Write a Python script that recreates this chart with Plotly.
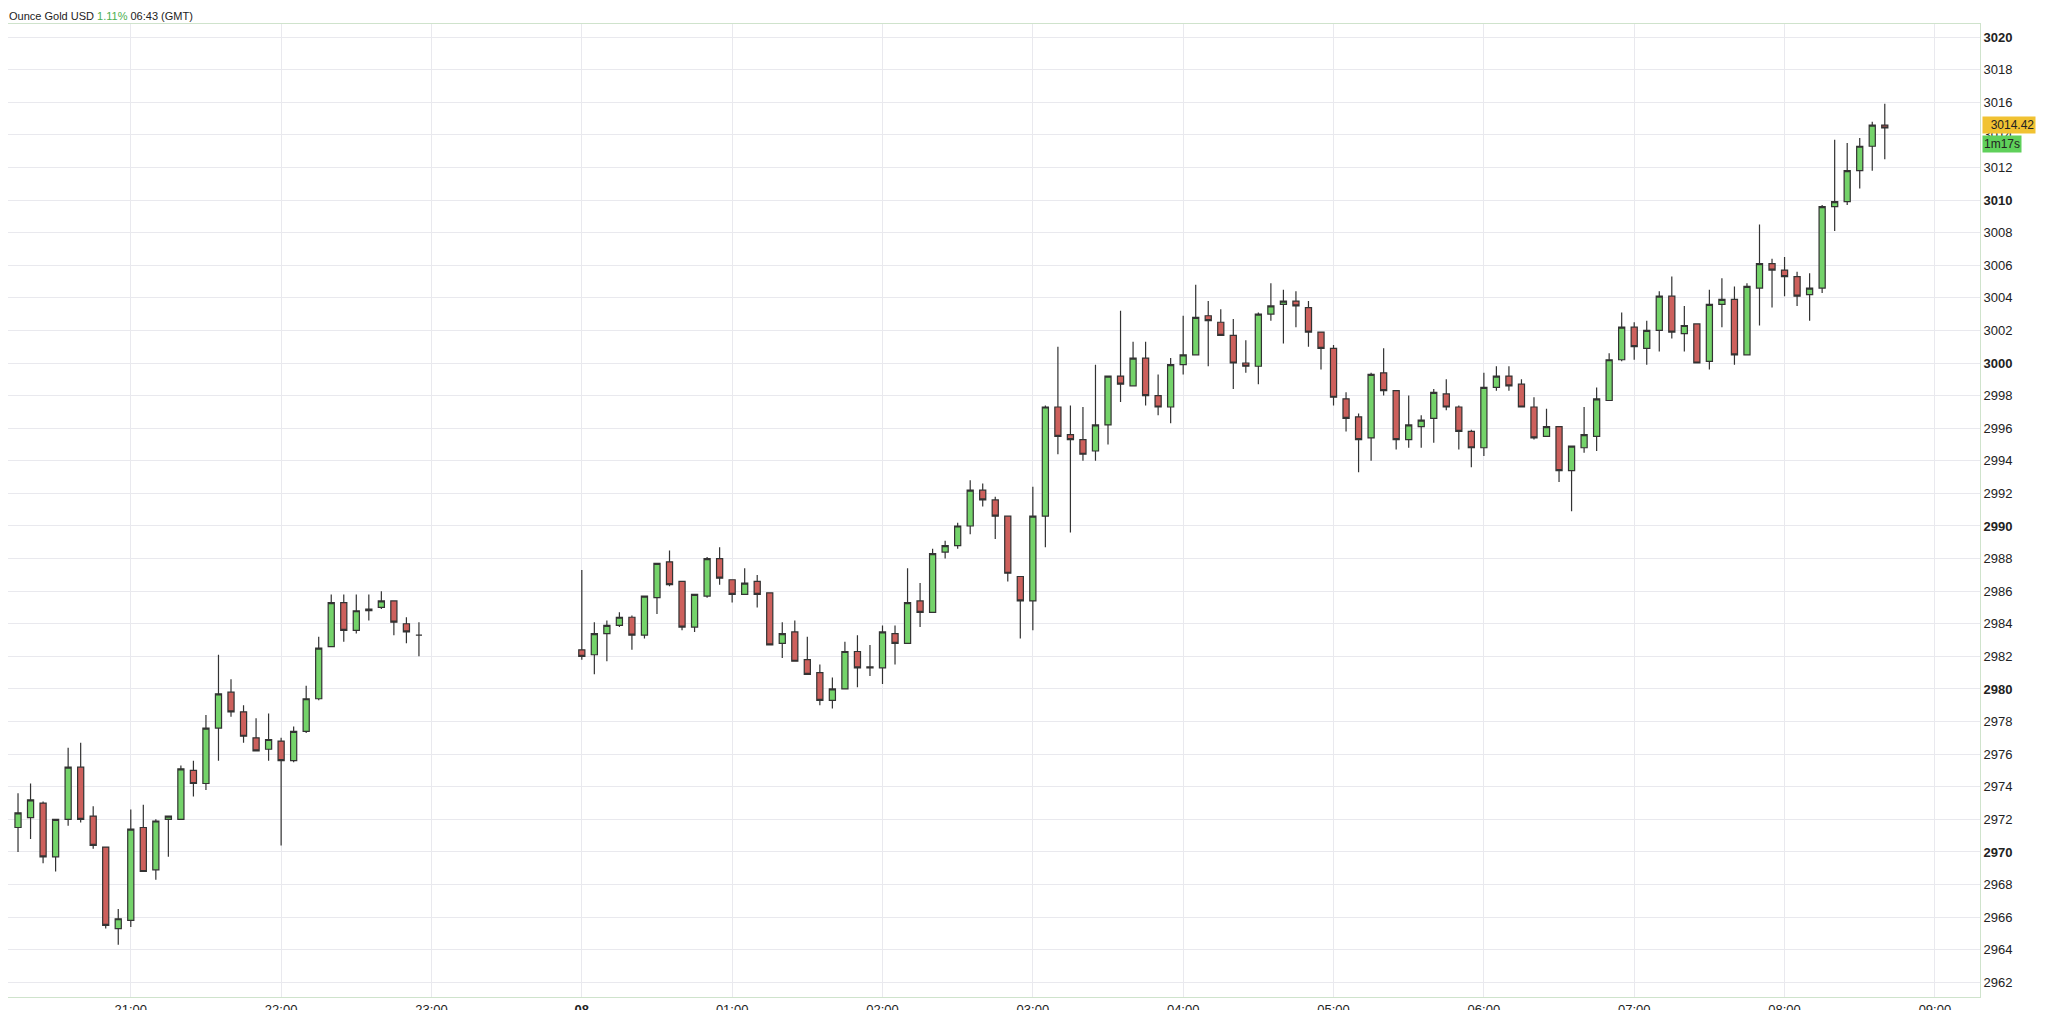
import plotly.graph_objects as go
import pandas as pd

# Session 1: 20:15 -> 22:55 (5-minute candles), Session 2: 00:00 -> 08:40
s1_start = "2025-04-07 20:15"
s2_start = "2025-04-08 00:00"

o1 = [2971.5,2972.1,2973.0,2969.7,2972.0,2975.2,2972.2,2970.3,2965.3,2965.8,2971.5,2968.9,2972.0,2972.0,2975.0,2974.2,2977.6,2979.8,2978.6,2977.0,2976.3,2976.8,2975.6,2977.4,2979.4,2982.6,2985.3,2983.6,2984.9,2985.0,2985.4,2984.0,2983.3]
h1 = [2973.6,2974.2,2973.1,2972.0,2976.4,2976.7,2972.8,2970.3,2966.5,2972.6,2972.9,2972.0,2972.2,2975.3,2975.6,2978.4,2982.1,2980.6,2979.0,2978.2,2978.5,2977.0,2977.7,2980.2,2983.2,2985.8,2985.8,2985.8,2985.8,2986.0,2985.4,2984.4,2984.1]
l1 = [2970.0,2970.8,2969.3,2968.8,2971.6,2971.8,2970.2,2965.3,2964.3,2965.4,2968.8,2968.3,2969.7,2972.0,2973.4,2973.8,2975.6,2978.3,2976.7,2976.2,2975.6,2970.4,2975.5,2977.3,2979.3,2982.6,2982.9,2983.4,2984.2,2984.9,2983.3,2982.8,2982.0]
c1 = [2972.4,2973.2,2969.7,2972.0,2975.2,2972.0,2970.4,2965.5,2965.9,2971.4,2968.8,2971.9,2972.2,2975.1,2974.2,2977.6,2979.7,2978.6,2977.1,2976.2,2976.9,2975.6,2977.4,2979.4,2982.5,2985.3,2983.6,2984.8,2984.8,2985.4,2984.1,2983.5,2983.3]

o2 = [2982.4,2982.1,2983.4,2983.9,2984.4,2983.3,2985.6,2987.8,2986.6,2983.8,2985.7,2988.0,2986.7,2985.8,2986.6,2985.9,2982.8,2983.5,2981.8,2981.0,
      2979.3,2980.0,2982.3,2981.35,2981.3,2983.4,2982.8,2985.4,2984.7,2988.4,2988.8,2990.0,2992.2,2991.6,2990.6,2986.9,2985.4,2990.6,2997.3,2995.6,
      2995.3,2994.6,2996.2,2999.2,2998.6,3000.3,2998.0,2997.3,2999.9,3000.5,3002.9,3002.5,3001.7,3000.0,2999.8,3003.0,3003.6,3003.8,3003.4,3001.9,
      3000.9,2997.8,2996.7,2995.4,2999.4,2998.3,2995.3,2996.1,2996.6,2998.1,2997.3,2995.8,2994.8,2998.5,2999.2,2998.7,2997.3,2995.5,2996.1,2993.4,
      2994.8,2995.5,2997.7,3000.2,3002.2,3000.9,3002.0,3004.1,3001.8,3002.4,3000.1,3003.6,3003.9,3000.5,3004.6,3006.1,3005.7,3005.3,3004.2,3004.6,
      3009.6,3009.9,3011.8,3013.3,3014.6]
h2 = [2987.3,2984.1,2984.2,2984.7,2984.5,2985.7,2987.7,2988.5,2986.6,2985.8,2988.1,2988.7,2986.7,2987.4,2987.0,2985.9,2984.1,2984.2,2983.2,2981.5,
      2980.7,2982.9,2983.3,2982.7,2983.9,2983.9,2987.4,2986.5,2988.6,2989.1,2990.2,2992.8,2992.6,2991.8,2990.6,2986.9,2992.4,2997.4,3001.0,2997.4,
      2997.3,2999.9,2999.2,3003.2,3001.3,3001.3,2999.3,3000.3,3002.9,3004.8,3003.8,3003.3,3002.7,3001.4,3003.1,3004.9,3004.5,3004.4,3003.8,3001.9,
      3001.1,2998.2,2996.9,2999.4,3000.9,2998.3,2998.0,2996.8,2998.4,2999.0,2997.4,2995.9,2999.4,2999.8,2999.8,2999.0,2997.9,2997.2,2996.1,2994.9,
      2997.3,2998.5,3000.6,3003.1,3002.5,3002.6,3004.4,3005.3,3003.5,3002.4,3004.5,3005.2,3004.7,3004.9,3008.5,3006.4,3006.5,3005.6,3005.5,3009.7,
      3013.7,3013.5,3013.8,3014.8,3015.9]
l2 = [2981.8,2980.9,2981.7,2983.8,2982.4,2983.1,2984.6,2986.3,2983.6,2983.5,2985.6,2986.4,2985.3,2985.8,2985.0,2982.7,2981.9,2981.7,2980.9,2979.0,
      2978.8,2980.0,2980.1,2980.8,2980.3,2981.5,2982.8,2983.8,2984.7,2988.0,2988.6,2989.5,2991.2,2989.2,2986.6,2983.1,2983.6,2988.7,2994.4,2989.6,
      2994.0,2994.0,2995.0,2997.6,2998.6,2997.4,2996.8,2996.3,2999.3,3000.5,2999.8,3001.7,2998.4,2999.4,2998.7,3002.6,3001.2,3002.2,3001.0,2999.6,
      2997.4,2995.8,2993.3,2994.0,2998.0,2994.7,2994.8,2994.8,2995.1,2997.1,2994.7,2993.6,2994.3,2998.3,2998.3,2997.3,2995.3,2995.5,2992.7,2990.9,
      2994.5,2994.6,2997.7,3000.1,3000.2,2999.9,3000.7,3001.5,3000.7,3000.0,2999.6,3002.2,2999.9,3000.5,3002.3,3003.4,3004.1,3003.5,3002.6,3004.3,
      3008.1,3009.7,3010.7,3011.8,3012.5]
c2 = [2982.0,2983.4,2983.9,2984.4,2983.3,2985.7,2987.7,2986.4,2983.8,2985.8,2988.0,2986.8,2985.8,2986.5,2985.8,2982.7,2983.4,2981.7,2980.9,2979.3,
      2980.0,2982.3,2981.3,2981.3,2983.5,2982.8,2985.3,2984.7,2988.3,2988.8,2990.0,2992.2,2991.6,2990.6,2987.1,2985.4,2990.6,2997.3,2995.5,2995.3,
      2994.4,2996.2,2999.2,2998.7,3000.3,2998.0,2997.3,2999.9,3000.5,3002.8,3002.6,3001.7,3000.0,2999.8,3003.0,3003.5,3003.8,3003.5,3001.9,3000.9,
      2997.9,2996.6,2995.3,2999.3,2998.3,2995.3,2996.2,2996.5,2998.2,2997.3,2995.8,2994.8,2998.5,2999.2,2998.6,2997.3,2995.4,2996.1,2993.4,2994.9,
      2995.6,2997.8,3000.2,3002.2,3001.0,3002.0,3004.1,3001.9,3002.3,3000.0,3003.6,3003.9,3000.5,3004.7,3006.1,3005.7,3005.3,3004.1,3004.6,3009.6,
      3009.9,3011.8,3013.3,3014.6,3014.42]

x_tickvals = ["2025-04-07 21:00","2025-04-07 22:00","2025-04-07 23:00","2025-04-08 00:00","2025-04-08 01:00",
              "2025-04-08 02:00","2025-04-08 03:00","2025-04-08 04:00","2025-04-08 05:00","2025-04-08 06:00",
              "2025-04-08 07:00","2025-04-08 08:00","2025-04-08 09:00"]
x_ticktext = ["21:00","22:00","23:00","<b>08</b>","01:00","02:00","03:00","04:00","05:00","06:00","07:00","08:00","09:00"]
y_tickvals = list(range(2962, 3021, 2))
y_ticktext = [f"<b>{v}</b>" if v % 10 == 0 else str(v) for v in y_tickvals]

last_price = "3014.42"
countdown = "1m17s"

t1 = pd.date_range(s1_start, periods=len(o1), freq="5min")
t2 = pd.date_range(s2_start, periods=len(o2), freq="5min")
times = list(t1) + list(t2)

fig = go.Figure(go.Candlestick(
    x=times, open=o1 + o2, high=h1 + h2, low=l1 + l2, close=c1 + c2,
    increasing=dict(fillcolor="#74d36a", line=dict(color="#333333", width=1.2)),
    decreasing=dict(fillcolor="#cd605c", line=dict(color="#333333", width=1.2)),
    whiskerwidth=0, showlegend=False, hoverinfo="skip",
))

fig.update_layout(
    width=2048, height=1010,
    margin=dict(l=0, r=76, t=16, b=21, pad=0),
    paper_bgcolor="white", plot_bgcolor="white",
    font=dict(family="Liberation Sans, Arial", color="#222", size=13),
    xaxis=dict(
        type="date", rangeslider=dict(visible=False),
        range=["2025-04-07 20:11", "2025-04-08 09:18"],
        tickvals=x_tickvals, ticktext=x_ticktext,
        showgrid=True, gridcolor="#e9e9ee", gridwidth=1,
        showline=True, linecolor="#cfe3cc", mirror=True, ticks="", tickfont=dict(size=13),
    ),
    yaxis=dict(
        side="right", range=[2961.1, 3020.8],
        tickvals=y_tickvals, ticktext=y_ticktext,
        showgrid=True, gridcolor="#e9e9ee", gridwidth=1,
        showline=True, linecolor="#cfe3cc", mirror=True, ticks="", tickfont=dict(size=13),
    ),
    annotations=[
        dict(xref="paper", yref="paper", x=0, y=1, yshift=1, xanchor="left", yanchor="bottom",
             text="Ounce Gold USD <span style='color:#4caf50'>1.11%</span> 06:43 (GMT)",
             showarrow=False, font=dict(size=11, color="#222"), borderpad=0),
        dict(xref="paper", yref="y", x=1, y=3014.62, xanchor="left", yanchor="middle", xshift=2,
             text=f"  {last_price}", showarrow=False, bgcolor="#f1c232", borderpad=1,
             font=dict(size=12, color="#222")),
        dict(xref="paper", yref="y", x=1, y=3013.45, xanchor="left", yanchor="middle", xshift=2,
             text=countdown, showarrow=False, bgcolor="#5fd05a", borderpad=1,
             font=dict(size=12, color="#222")),
    ],
)

fig.write_html("out.html")
